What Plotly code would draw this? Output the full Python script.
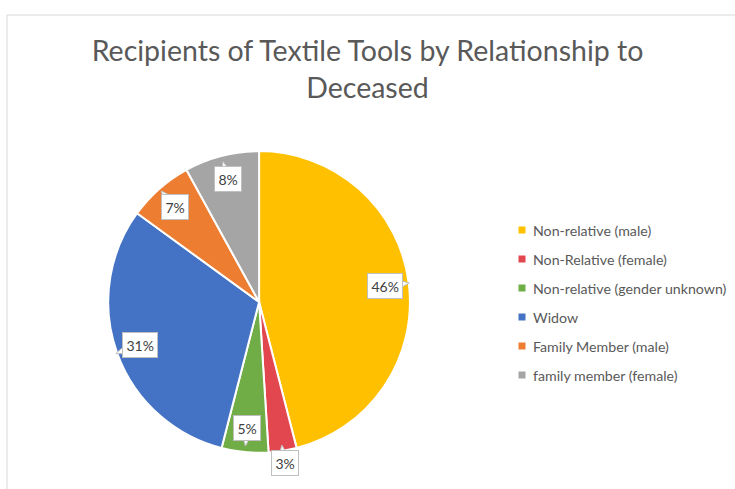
import math
import plotly.graph_objects as go

# Share of textile-tool recipients by relationship to the deceased (%)
categories = [
    "Non-relative (male)",
    "Non-Relative (female)",
    "Non-relative (gender unknown)",
    "Widow",
    "Family Member (male)",
    "family member (female)",
]
shares = [46, 3, 5, 31, 7, 8]
colors = ["#FFC000", "#E2474F", "#70AD47", "#4472C4", "#ED7D31", "#A5A5A5"]

W, H = 735, 489
FONT = "Lato, 'Open Sans', Arial, sans-serif"

# Pie placement (paper fractions)
dom_x = [0.147, 0.558]
dom_y = [0.074, 0.691]

fig = go.Figure(
    go.Pie(
        labels=categories,
        values=shares,
        sort=False,
        direction="clockwise",
        rotation=0,
        marker=dict(colors=colors, line=dict(color="white", width=2)),
        textinfo="none",
        hoverinfo="label+percent",
        showlegend=False,
        domain=dict(x=dom_x, y=dom_y),
    )
)


def to_paper(px, py):
    return px / W, 1 - py / H


# Percentage callouts placed along each slice's mid-angle, with a small tail
cx = (dom_x[0] + dom_x[1]) / 2 * W
cy = H - (dom_y[0] + dom_y[1]) / 2 * H
radius = min((dom_x[1] - dom_x[0]) * W, (dom_y[1] - dom_y[0]) * H) / 2
total = sum(shares)
cum = 0
annotations = []
shapes = []
for v in shares:
    mid = (cum + v / 2) / total * 2 * math.pi
    cum += v
    outside = v / total < 0.04
    frac = 1.08 if outside else 0.84
    ux, uy = math.sin(mid), -math.cos(mid)
    px = cx + frac * radius * ux
    py = cy + frac * radius * uy
    text = f"{round(v / total * 100)}%"

    # tail points away from the centre for inside labels, back toward the slice otherwise
    dx, dy = (-ux, -uy) if outside else (ux, uy)
    hw, hh = (len(text) * 10 + 3) / 2, 10
    t = min(hw / abs(dx) if abs(dx) > 1e-6 else 1e9, hh / abs(dy) if abs(dy) > 1e-6 else 1e9)
    bx, by = px + t * dx, py + t * dy
    nx, ny = -dy, dx
    pts = [(bx + 4 * nx - 2 * dx, by + 4 * ny - 2 * dy),
           (bx + 8 * dx, by + 8 * dy),
           (bx - 4 * nx - 2 * dx, by - 4 * ny - 2 * dy)]
    path = "M " + " L ".join(f"{a:.4f},{b:.4f}" for a, b in (to_paper(*p) for p in pts)) + " Z"
    shapes.append(dict(type="path", xref="paper", yref="paper", path=path,
                       fillcolor="white", line=dict(color="#BFBFBF", width=1), layer="above"))

    ax, ay = to_paper(px, py)
    annotations.append(
        dict(
            x=ax, y=ay, xref="paper", yref="paper",
            text=text, showarrow=False,
            font=dict(family=FONT, size=14, color="#404040"),
            bgcolor="white", bordercolor="#BFBFBF", borderwidth=1, borderpad=3.5,
            xanchor="center", yanchor="middle",
        )
    )

# Legend drawn as colour squares with labels
leg_x, leg_y0, leg_step = 522, 230, 29
for i, (name, col) in enumerate(zip(categories, colors)):
    y = leg_y0 + i * leg_step
    shapes.append(dict(
        type="rect", xref="paper", yref="paper",
        x0=(leg_x - 3.5) / W, x1=(leg_x + 3.5) / W,
        y0=1 - (y + 3.5) / H, y1=1 - (y - 3.5) / H,
        fillcolor=col, line=dict(width=0),
    ))
    annotations.append(dict(
        x=(leg_x + 9) / W, y=1 - y / H, xref="paper", yref="paper",
        text=name, showarrow=False, xanchor="left", yanchor="middle",
        font=dict(family=FONT, size=14.2, color="#595959"),
    ))

# Chart-area frame (top and left edges visible)
shapes.append(dict(type="line", xref="paper", yref="paper",
                   x0=7 / W, x1=1.0, y0=1 - 15 / H, y1=1 - 15 / H,
                   line=dict(color="#D9D9D9", width=1)))
shapes.append(dict(type="line", xref="paper", yref="paper",
                   x0=7 / W, x1=7 / W, y0=0, y1=1 - 15 / H,
                   line=dict(color="#D9D9D9", width=1)))

fig.update_layout(
    width=W, height=H,
    margin=dict(l=0, r=0, t=0, b=0),
    paper_bgcolor="white",
    plot_bgcolor="white",
    title=dict(
        text="Recipients of Textile Tools by Relationship to<br>Deceased",
        x=0.5, xanchor="center", xref="paper",
        y=1 - 61 / H, yanchor="middle", yref="container",
        font=dict(family=FONT, size=28.5, color="#595959"),
    ),
    annotations=annotations,
    shapes=shapes,
)

fig.write_html("out.html")
